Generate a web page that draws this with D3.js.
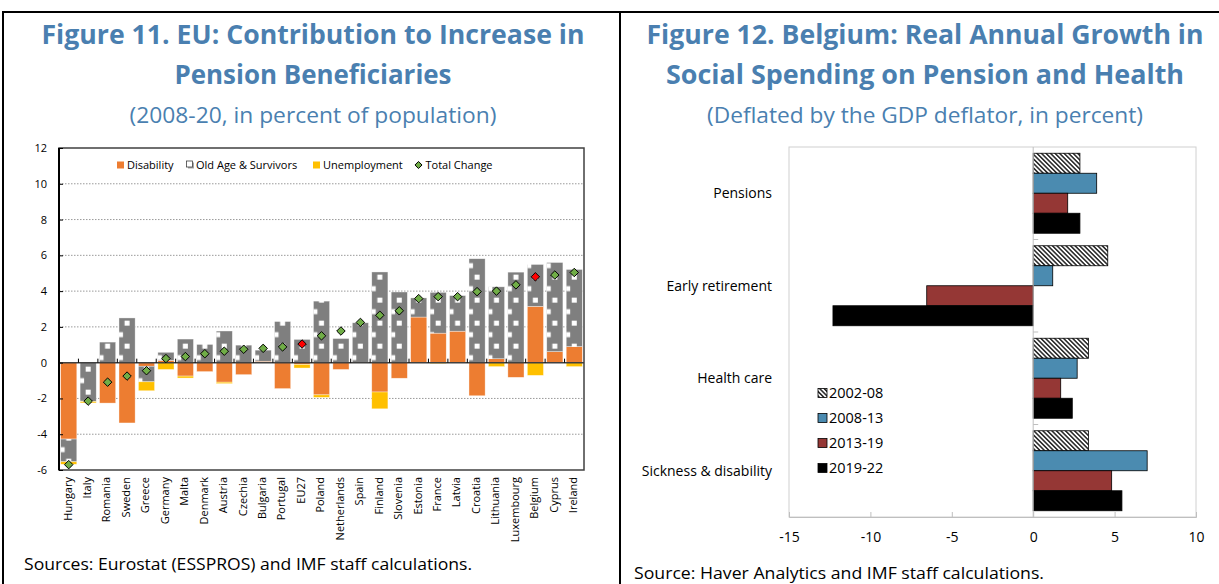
<!DOCTYPE html>
<html><head><meta charset="utf-8">
<script src="https://cdn.jsdelivr.net/npm/d3@7"></script>
<style>body{margin:0;background:#fff} text{font-family:"Open Sans",sans-serif}</style>
</head><body><svg id="c" width="1219" height="584"></svg>
<script>
// ---------- Figure 11 data ----------
const countries = ["Hungary","Italy","Romania","Sweden","Greece","Germany","Malta","Denmark","Austria","Czechia","Bulgaria","Portugal","EU27","Poland","Netherlands","Spain","Finland","Slovenia","Estonia","France","Latvia","Croatia","Lithuania","Luxembourg","Belgium","Cyprus","Ireland"];
const disability   = [-4.27,0,-2.26,-3.37,-0.2,0.13,-0.75,-0.5,-1.09,-0.67,0.08,-1.45,-0.1,-1.8,-0.38,0,-1.64,-0.87,2.55,1.65,1.76,-1.85,0.22,-0.82,3.15,0.62,0.9];
const oldAge       = [-1.27,-2.17,1.15,2.5,-0.87,0.45,1.32,1.02,1.77,0.98,0.62,2.3,1.3,3.44,1.35,2.23,5.07,3.95,1.07,2.28,1.99,5.81,4.02,5.06,2.34,4.98,4.31];
const unemployment = [-0.14,-0.08,0,0,-0.5,-0.38,-0.11,0,-0.08,0,0,0,-0.2,-0.14,0,0,-0.94,0,0,-0.05,0,0,-0.22,0,-0.71,0,-0.22];
const totalChange  = [-5.7,-2.15,-1.09,-0.75,-0.45,0.23,0.34,0.5,0.64,0.75,0.8,0.88,1.04,1.5,1.77,2.25,2.65,2.9,3.58,3.69,3.69,3.97,4.0,4.35,4.8,4.9,5.04];
const highlighted  = ["EU27","Belgium"];
const yTicksLeft   = [-6,-4,-2,0,2,4,6,8,10,12];
const leftKeys     = ["Disability","Old Age & Survivors","Unemployment"];

// ---------- Figure 12 data ----------
const spendCategories = ["Pensions","Early retirement","Health care","Sickness & disability"];
const periods  = ["2002-08","2008-13","2013-19","2019-22"];
const p2002_08 = [2.87,4.58,3.39,3.39];
const p2008_13 = [3.9,1.2,2.7,7.0];
const p2013_19 = [2.12,-6.54,1.69,4.82];
const p2019_22 = [2.87,-12.3,2.4,5.45];
const xTicksRight = [-15,-10,-5,0,5,10];

const svg = d3.select("#c");
svg.append("rect").attr("width",1219).attr("height",584).attr("fill","#fff");
const defs = svg.append("defs");

const titleColor = "#4a7fb0";
const plainNum = d => String(d);
function fitText(sel, w){ sel.attr("textLength", w).attr("lengthAdjust","spacingAndGlyphs"); return sel; }

// frame
svg.append("path").attr("d","M3,584V12H1219M620,12V584").attr("fill","none").attr("stroke","#000").attr("stroke-width",2);

// titles
function titles(cx, l1, w1, l2, w2, sub, w3){
  fitText(svg.append("text").attr("x",cx).attr("y",44).attr("text-anchor","middle").attr("font-size",26).attr("font-weight","bold").attr("fill",titleColor).text(l1), w1);
  fitText(svg.append("text").attr("x",cx).attr("y",84).attr("text-anchor","middle").attr("font-size",26).attr("font-weight","bold").attr("fill",titleColor).text(l2), w2);
  fitText(svg.append("text").attr("x",cx).attr("y",123).attr("text-anchor","middle").attr("font-size",21).attr("fill",titleColor).text(sub), w3);
}
titles(313,"Figure 11. EU: Contribution to Increase in",543,"Pension Beneficiaries",277,"(2008-20, in percent of population)",367);
titles(925,"Figure 12. Belgium: Real Annual Growth in",557,"Social Spending on Pension and Health",518,"(Deflated by the GDP deflator, in percent)",436);

fitText(svg.append("text").attr("x",24).attr("y",570).attr("font-size",16).text("Sources: Eurostat (ESSPROS) and IMF staff calculations."),448);
fitText(svg.append("text").attr("x",634).attr("y",579).attr("font-size",16).text("Source: Haver Analytics and IMF staff calculations."),410);

// ================= LEFT CHART =================
const L = {x0:59, x1:584, y0:148, y1:470};
const x = d3.scaleBand().domain(countries).range([L.x0,L.x1]).paddingInner(0.17).paddingOuter(0.085);
const y = d3.scaleLinear().domain([-6,12]).range([L.y1,L.y0]);
const gl = svg.append("g");

// pattern for old age
const bw = x.bandwidth();
const pat = defs.append("pattern").attr("id","oldage").attr("patternUnits","userSpaceOnUse")
  .attr("x", x(countries[0])).attr("y", y(0)).attr("width", x.step()).attr("height", 23);
pat.append("rect").attr("width", x.step()).attr("height",23).attr("fill","#7f7f7f");
pat.append("rect").attr("x", bw/2-2.5).attr("y",4).attr("width",5).attr("height",5).attr("fill","#fff");
pat.append("rect").attr("x", 0).attr("y",15.5).attr("width",4).attr("height",5).attr("fill","#fff");

// gridlines
gl.selectAll("line.grid").data(yTicksLeft.filter(t=>t!==0 && t!==-6 && t!==12)).join("line")
  .attr("x1",L.x0).attr("x2",L.x1).attr("y1",d=>y(d)).attr("y2",d=>y(d))
  .attr("stroke","#9a9a9a").attr("stroke-width",1).attr("stroke-dasharray","1.5,1.5");

// stacked bars
const rows = countries.map((c,i)=>({country:c, "Disability":disability[i], "Old Age & Survivors":oldAge[i], "Unemployment":unemployment[i]}));
const stacked = d3.stack().keys(leftKeys).offset(d3.stackOffsetDiverging)(rows);
const leftFill = {"Disability":"#ed7d31","Old Age & Survivors":"url(#oldage)","Unemployment":"#ffc000"};
gl.selectAll("g.series").data(stacked).join("g").attr("fill",d=>leftFill[d.key])
  .selectAll("rect").data(d=>d).join("rect")
  .attr("x",d=>x(d.data.country)).attr("width",bw)
  .attr("y",d=>y(Math.max(d[0],d[1]))).attr("height",d=>Math.abs(y(d[0])-y(d[1])))
  .attr("stroke","#ffffff").attr("stroke-opacity",0.6).attr("stroke-width",0.6);

// zero line and category ticks
gl.append("line").attr("x1",L.x0).attr("x2",L.x1).attr("y1",y(0)).attr("y2",y(0)).attr("stroke","#404040").attr("stroke-width",1.5);
const bounds = countries.map(c=>x(c)-x.step()*x.paddingInner()/2).slice(1);
gl.selectAll("line.ctick").data(bounds).join("line")
  .attr("x1",d=>d).attr("x2",d=>d).attr("y1",y(0)-4).attr("y2",y(0)).attr("stroke","#000").attr("stroke-width",1);

// diamonds
const diamond = {draw(ctx,size){const r=Math.sqrt(size)/2; ctx.moveTo(0,-r); ctx.lineTo(r,0); ctx.lineTo(0,r); ctx.lineTo(-r,0); ctx.closePath();}};
gl.selectAll("path.dia").data(countries).join("path")
  .attr("d", d3.symbol(diamond, 72))
  .attr("transform",(c,i)=>`translate(${x(c)+bw/2},${y(totalChange[i])})`)
  .attr("fill",c=>highlighted.includes(c)?"#ff0000":"#70ad47").attr("stroke","#000").attr("stroke-width",1);

// box
gl.append("rect").attr("x",L.x0).attr("y",L.y0).attr("width",L.x1-L.x0).attr("height",L.y1-L.y0).attr("fill","none").attr("stroke","#404040").attr("stroke-width",1.5);
gl.append("line").attr("x1",L.x0).attr("x2",L.x0).attr("y1",L.y0).attr("y2",L.y1).attr("stroke","#000").attr("stroke-width",2);

// y axis
const yAx = gl.append("g").attr("transform",`translate(${L.x0},0)`)
  .call(d3.axisLeft(y).tickValues(yTicksLeft).tickSize(-4).tickPadding(12).tickFormat(plainNum));
yAx.select(".domain").remove();
yAx.selectAll("line").attr("stroke","#000");
yAx.selectAll("text").attr("font-size",11).attr("font-family","Open Sans").attr("fill","#000");

// x labels
const xAx = gl.append("g").attr("transform",`translate(0,${L.y1})`).call(d3.axisBottom(x).tickSize(0));
xAx.select(".domain").remove();
xAx.selectAll("text").attr("transform","rotate(-90)").attr("text-anchor","end")
  .attr("x",-7).attr("y",-1).attr("dy","0.35em").attr("font-size",11).attr("font-family","Open Sans").attr("fill","#000");

// legend
const lg = gl.append("g").attr("font-size",11);
lg.append("rect").attr("x",117).attr("y",161.5).attr("width",7).attr("height",7).attr("fill","#ed7d31");
lg.append("text").attr("x",127).attr("y",169).text(leftKeys[0]);
lg.append("rect").attr("x",188).attr("y",162.5).attr("width",6).attr("height",6).attr("fill","#a6a6a6");
lg.append("rect").attr("x",186.5).attr("y",161).attr("width",6).attr("height",6).attr("fill","#fff").attr("stroke","#404040").attr("stroke-width",0.8);
lg.append("text").attr("x",196).attr("y",169).text(leftKeys[1]);
lg.append("rect").attr("x",313).attr("y",161.5).attr("width",7).attr("height",7).attr("fill","#ffc000");
lg.append("text").attr("x",323).attr("y",169).text(leftKeys[2]);
lg.append("path").attr("d",d3.symbol(diamond,50)).attr("transform","translate(418.5,165)").attr("fill","#70ad47").attr("stroke","#000").attr("stroke-width",1);
lg.append("text").attr("x",425.5).attr("y",169).text("Total Change");

// ================= RIGHT CHART =================
const R = {x0:789, x1:1196, y0:147, y1:517};
const xr = d3.scaleLinear().domain([-15,10]).range([R.x0,R.x1]);
const yr = d3.scaleBand().domain(spendCategories).range([R.y0,R.y1]);
const yp = d3.scaleBand().domain(periods).range([0,yr.bandwidth()]).paddingOuter(0.3125);
const gr = svg.append("g");

const hp = defs.append("pattern").attr("id","hatch").attr("patternUnits","userSpaceOnUse")
  .attr("width",3.2).attr("height",3.2).attr("patternTransform","rotate(-45)");
hp.append("rect").attr("width",3.2).attr("height",3.2).attr("fill","#fff");
hp.append("line").attr("x1",0.8).attr("x2",0.8).attr("y1",0).attr("y2",3.2).attr("stroke","#000").attr("stroke-width",1.3);

gr.append("rect").attr("x",R.x0).attr("y",R.y0).attr("width",R.x1-R.x0).attr("height",R.y1-R.y0).attr("fill","none").attr("stroke","#d0d0d0").attr("stroke-width",1);

const rightSeries = [p2002_08,p2008_13,p2013_19,p2019_22];
const rightFill = ["url(#hatch)","#4b8bb0","#953735","#000000"];
periods.forEach((p,k)=>{
  gr.append("g").selectAll("rect").data(spendCategories).join("rect")
    .attr("x",(c,i)=>xr(Math.min(0,rightSeries[k][i])))
    .attr("width",(c,i)=>Math.abs(xr(rightSeries[k][i])-xr(0)))
    .attr("y",c=>yr(c)+yp(p)).attr("height",yp.bandwidth())
    .attr("fill",rightFill[k]).attr("stroke","#000").attr("stroke-width",0.8);
});

// zero axis
gr.append("line").attr("x1",xr(0)).attr("x2",xr(0)).attr("y1",R.y0).attr("y2",R.y1).attr("stroke","#bfbfbf").attr("stroke-width",1);
gr.selectAll("line.gt").data(spendCategories.slice(1)).join("line")
  .attr("x1",xr(0)).attr("x2",xr(0)+5).attr("y1",c=>yr(c)).attr("y2",c=>yr(c)).attr("stroke","#bfbfbf");

// bottom axis
const xrAx = gr.append("g").attr("transform",`translate(0,${R.y1})`)
  .call(d3.axisBottom(xr).tickValues(xTicksRight).tickSize(-5).tickPadding(15).tickFormat(plainNum));
xrAx.select(".domain").attr("stroke","#bfbfbf");
xrAx.selectAll("line").attr("stroke","#bfbfbf");
xrAx.selectAll("text").attr("font-size",14).attr("font-family","Open Sans").attr("fill","#000");

// category labels
gr.selectAll("text.cat").data(spendCategories).join("text")
  .attr("x",772).attr("y",c=>yr(c)+yr.bandwidth()/2).attr("dy","0.35em")
  .attr("text-anchor","end").attr("font-size",14).text(c=>c);

// legend
const rl = gr.append("g");
const legY = d3.scalePoint().domain(periods).range([393,468]);
rl.selectAll("rect").data(periods).join("rect")
  .attr("x",818).attr("y",p=>legY(p)-4.5).attr("width",9).attr("height",9)
  .attr("fill",(p,k)=>rightFill[k]).attr("stroke","#000").attr("stroke-width",0.8);
rl.selectAll("text").data(periods).join("text")
  .attr("x",829).attr("y",p=>legY(p)).attr("dy","0.36em").attr("font-size",14.5).text(p=>p);
</script></body></html>
